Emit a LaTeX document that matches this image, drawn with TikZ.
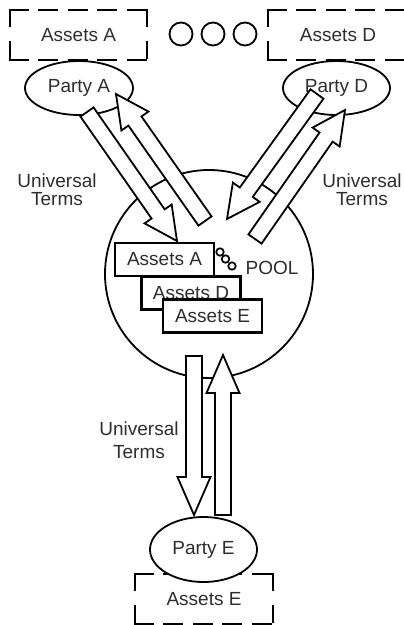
\documentclass[tikz,border=0pt]{standalone}
\usepackage{fontspec}
\setmainfont{Liberation Sans}
\usetikzlibrary{calc,shapes.geometric}

% Hollow block arrow from a tail point to a tip point
% #1 = head length (pt), #2 = tail coordinate, #3 = tip coordinate
\newcommand{\fatarrow}[3][33]{%
  \path ($(#3)!#1pt!(#2)$) coordinate (hb);
  \draw[arrowbody]
    ($(#2)!8pt!90:(#3)$) -- ($(hb)!8pt!90:(#3)$) -- ($(hb)!16.5pt!90:(#3)$)
    -- (#3)
    -- ($(hb)!16.5pt!-90:(#3)$) -- ($(hb)!8pt!-90:(#3)$) -- ($(#2)!8pt!-90:(#3)$)
    -- cycle;}

% Dashed frame around a named rectangle node, each side drawn on its own
% so that every corner carries a dash
\newcommand{\dashframe}[3]{%
  \draw[frameline, dash pattern=#2] (#1.north west) -- (#1.north east);
  \draw[frameline, dash pattern=#2] (#1.south west) -- (#1.south east);
  \draw[frameline, dash pattern=#3] (#1.north west) -- (#1.south west);
  \draw[frameline, dash pattern=#3] (#1.north east) -- (#1.south east);}

\begin{document}
\begin{tikzpicture}[x=1pt,y=-1pt,
  txt/.style={text=black!82, font=\fontsize{19}{17}\selectfont},
  lbl/.style={txt, align=center, inner sep=0pt, font=\fontsize{19}{18}\selectfont},
  lblwide/.style={lbl, font=\fontsize{19}{23}\selectfont},
  frame/.style={rectangle, inner sep=0pt, outer sep=0pt, txt},
  frameline/.style={line width=2.8pt, line cap=rect},
  party/.style={ellipse, draw, line width=1.8pt, fill=white, inner sep=0pt, txt},
  pool/.style={circle, draw, line width=1.8pt, fill=white, inner sep=0pt},
  assetbox/.style={rectangle, draw, line width=2.4pt, fill=white, inner sep=0pt,
    minimum width=99pt, minimum height=33pt, txt},
  dot/.style={circle, draw, line width=1.8pt, inner sep=0pt, minimum size=23pt},
  link/.style={circle, draw, line width=1.7pt, inner sep=0pt, minimum size=7.5pt},
  arrowbody/.style={draw, line width=1.8pt, fill=white, line join=miter}]

\useasboundingbox (0,0) rectangle (404,625);
\clip (0,0) rectangle (404,625);

% outside holdings (dashed frames)
\node[frame, minimum width=137pt, minimum height=50pt] (holdA) at (78.5,35) {Assets A};
\dashframe{holdA}{on 17.2pt off 12.3pt}{on 15.2pt off 16.8pt}
\node[frame, minimum width=142pt, minimum height=50pt, anchor=north west] (holdDbox) at (268,10) {};
\node[txt, inner sep=0pt] (holdD) at (338,35) {Assets D};
\dashframe{holdDbox}{on 17.2pt off 12.3pt}{on 15.2pt off 16.8pt}
\node[frame, minimum width=138pt, minimum height=50pt] (holdE) at (204,599) {Assets E};
\dashframe{holdE}{on 17.2pt off 12.3pt}{on 15.2pt off 16.8pt}

% ellipsis marks between the parties
\node[dot] (o1) at (181,34) {};
\node[dot] (o2) at (213,34) {};
\node[dot] (o3) at (245,34) {};

% the pool
\node[pool, minimum size=208pt] (pool) at (209,274) {};

% parties
\node[party, minimum width=108pt, minimum height=54pt] (partyA) at (79,88) {Party A};
\node[party, minimum width=107pt, minimum height=54pt] (partyD) at (336.5,88) {Party D};
\node[party, minimum width=107pt, minimum height=65pt] (partyE) at (203.5,549.5) {Party E};

% arrow end points
\coordinate (aDownTail) at (87,112);
\coordinate (aDownTip)  at (177,241);
\coordinate (aUpTail)   at (205,221);
\coordinate (aUpTip)    at (116,94);
\coordinate (dDownTail) at (317,94);
\coordinate (dDownTip)  at (227,219);
\coordinate (dUpTail)   at (255,239);
\coordinate (dUpTip)    at (345,110);
\coordinate (eDownTail) at (194,356);
\coordinate (eDownTip)  at (194,515);
\coordinate (eUpTail)   at (223,515);
\coordinate (eUpTip)    at (223,355);

\fatarrow{aDownTail}{aDownTip}
\fatarrow{aUpTail}{aUpTip}
\fatarrow{dDownTail}{dDownTip}
\fatarrow{dUpTail}{dUpTip}
\fatarrow[38]{eDownTail}{eDownTip}
\fatarrow[38]{eUpTail}{eUpTip}

% assets held in the pool
\node[assetbox] (poolA) at (164.5,259.5) {Assets A};
\node[assetbox] (poolD) at (191,293) {Assets D};
\node[assetbox] (poolE) at (212.5,316) {Assets E};

% chain link and pool label
\node[link] (c1) at (220,252) {};
\node[link] (c2) at (225.5,259) {};
\node[link] (c3) at (232,266) {};
\node[txt, inner sep=0pt] (poolLabel) at (272,268) {POOL};

% labels on the flows
\node[lbl] (termsA) at (57,189.5) {Universal\\Terms};
\node[lbl] (termsD) at (362,189.5) {Universal\\Terms};
\node[lblwide] (termsE) at (139,440) {Universal\\Terms};

\end{tikzpicture}
\end{document}
